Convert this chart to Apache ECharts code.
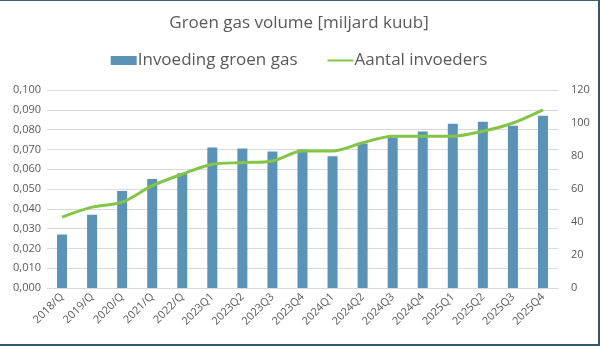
<!DOCTYPE html>
<html><head><meta charset="utf-8">
<script src="https://cdn.jsdelivr.net/npm/echarts@6/dist/echarts.min.js"></script>
<style>
html,body{margin:0;padding:0;background:#fff;}
#wrap{width:600px;height:346px;box-sizing:border-box;border-top:1px solid #3d6577;border-right:2px solid #2f5a6c;border-bottom:2px solid #2f5a6c;}
#c{width:100%;height:100%;}
</style></head>
<body><div id="wrap"><div id="c"></div></div>
<script>
const categories = ['2018/Q','2019/Q','2020/Q','2021/Q','2022/Q','2023Q1','2023Q2','2023Q3','2023Q4','2024Q1','2024Q2','2024Q3','2024Q4','2025Q1','2025Q2','2025Q3','2025Q4'];
const invoeding = [0.027,0.037,0.049,0.055,0.058,0.071,0.0705,0.069,0.070,0.0665,0.073,0.076,0.079,0.083,0.084,0.082,0.087];
const invoeders = [43,49,52,62,69,75,76,77,83,83,88,92,92,92,95,100,108];
const leftTicks = {min:0,max:0.1,interval:0.01};
const rightTicks = {min:0,max:120,interval:20};

const chart = echarts.init(document.getElementById('c'), null, {renderer:'canvas'});
const font = 'Open Sans';
chart.setOption({
  animation:false,
  title:{text:'Groen gas volume [miljard kuub]',left:'center',top:9,textStyle:{fontFamily:font,fontSize:17,fontWeight:'normal',color:'#595959'}},
  legend:{top:46,left:'center',itemGap:30,itemWidth:26,itemHeight:9,textStyle:{fontFamily:font,fontSize:17,color:'#595959',padding:[0,0,0,-4]},
    data:[{name:'Invoeding groen gas',icon:'rect'},{name:'Aantal invoeders',icon:'path://M0,4 L26,4 L26,6 L0,6 Z',itemStyle:{color:'#84c446'}}]},
  grid:{left:47,right:40,top:89,bottom:56},
  xAxis:{type:'category',data:categories,axisTick:{show:false},axisLine:{lineStyle:{color:'#d9d9d9'}},
    axisLabel:{rotate:45,fontFamily:font,fontSize:11,color:'#595959',margin:7}},
  yAxis:[
    {type:'value',min:leftTicks.min,max:leftTicks.max,interval:leftTicks.interval,
     axisLabel:{fontFamily:font,fontSize:11,color:'#595959',margin:6,formatter:v=>v.toFixed(3).replace('.',',')},
     splitLine:{lineStyle:{color:'#d9d9d9'}}},
    {type:'value',min:rightTicks.min,max:rightTicks.max,interval:rightTicks.interval,
     axisLabel:{fontFamily:font,fontSize:11,color:'#595959',margin:13},splitLine:{show:false}}
  ],
  series:[
    {name:'Invoeding groen gas',type:'bar',data:invoeding,barWidth:10,itemStyle:{color:'#5b93b6'}},
    {name:'Aantal invoeders',type:'line',yAxisIndex:1,data:invoeders,smooth:0.3,symbol:'none',lineStyle:{color:'#84c446',width:3},itemStyle:{color:'#84c446'}}
  ]
});
</script></body></html>
